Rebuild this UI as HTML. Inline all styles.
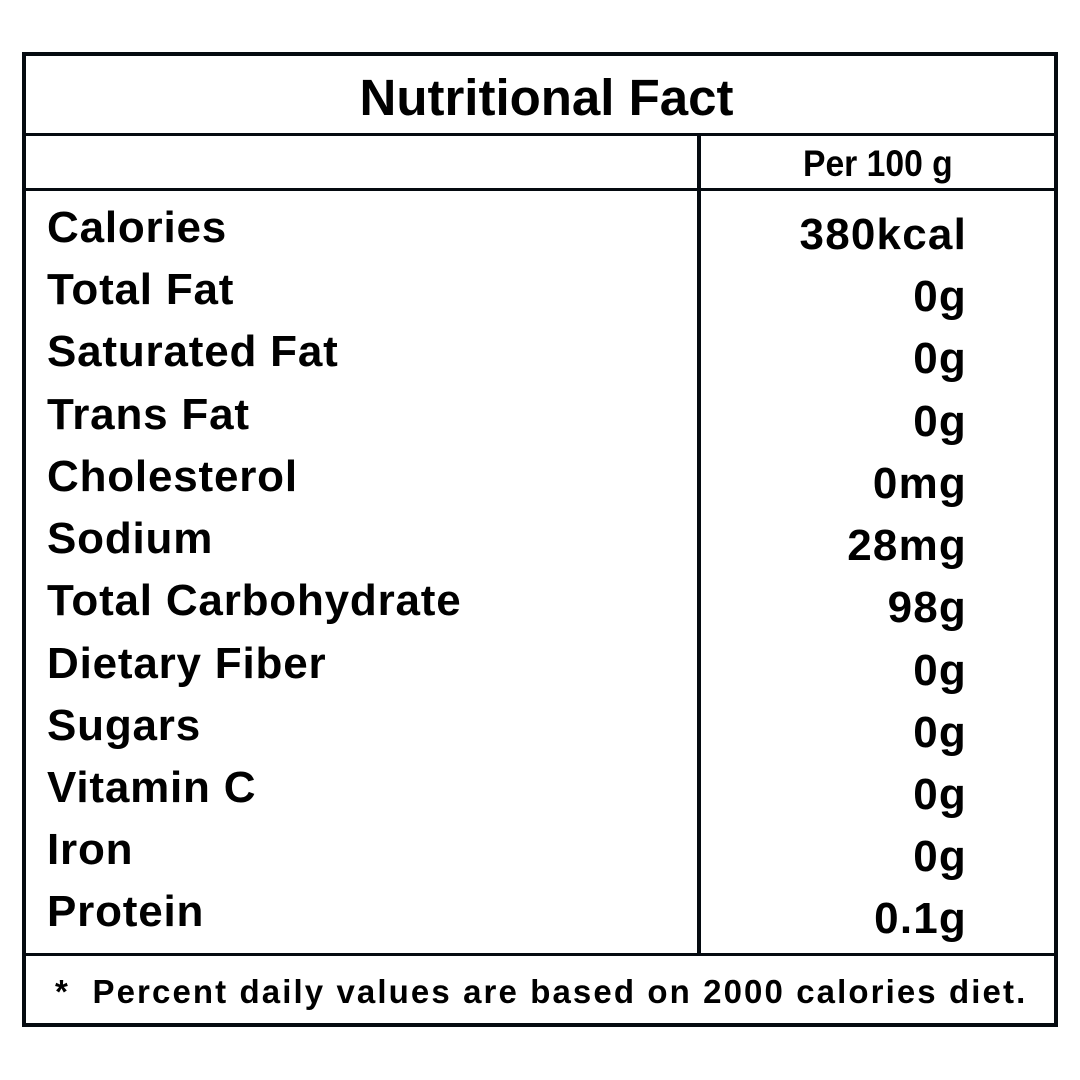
<!DOCTYPE html>
<html><head><meta charset="utf-8"><style>
html,body{margin:0;padding:0;background:#fff;}
body{width:1080px;height:1080px;position:relative;overflow:hidden;font-family:"Liberation Sans",Arial,sans-serif;font-weight:bold;color:#000;}
.ln{position:absolute;background:#050a10;}
.t{position:absolute;line-height:1;white-space:nowrap;}
.l{left:47px;font-size:44px;letter-spacing:0.8px;}
.v{right:113px;font-size:44px;text-align:right;letter-spacing:1.2px;}
</style></head><body>
<div class="ln" style="left:22px;top:52px;width:1036px;height:4px"></div>
<div class="ln" style="left:22px;top:1023px;width:1036px;height:4px"></div>
<div class="ln" style="left:22px;top:52px;width:4px;height:975px"></div>
<div class="ln" style="left:1054px;top:52px;width:4px;height:975px"></div>
<div class="ln" style="left:22px;top:133px;width:1032px;height:3px"></div>
<div class="ln" style="left:22px;top:188px;width:1032px;height:3px"></div>
<div class="ln" style="left:22px;top:953px;width:1032px;height:3px"></div>
<div class="ln" style="left:697px;top:134px;width:4px;height:820px"></div>

<div class="t" style="left:0;width:1093px;text-align:center;top:72px;font-size:51px;">Nutritional Fact</div>
<div class="t" style="left:803px;top:145px;font-size:37px;transform:scaleX(0.91);transform-origin:left;">Per 100 g</div>

<div class="t l" style="top:206px">Calories</div>
<div class="t l" style="top:268px">Total Fat</div>
<div class="t l" style="top:330px">Saturated Fat</div>
<div class="t l" style="top:393px">Trans Fat</div>
<div class="t l" style="top:455px">Cholesterol</div>
<div class="t l" style="top:517px">Sodium</div>
<div class="t l" style="top:579px">Total Carbohydrate</div>
<div class="t l" style="top:642px">Dietary Fiber</div>
<div class="t l" style="top:704px">Sugars</div>
<div class="t l" style="top:766px">Vitamin C</div>
<div class="t l" style="top:828px">Iron</div>
<div class="t l" style="top:890px">Protein</div>

<div class="t v" style="top:213px">380kcal</div>
<div class="t v" style="top:275px">0g</div>
<div class="t v" style="top:337px">0g</div>
<div class="t v" style="top:400px">0g</div>
<div class="t v" style="top:462px">0mg</div>
<div class="t v" style="top:524px">28mg</div>
<div class="t v" style="top:586px">98g</div>
<div class="t v" style="top:649px">0g</div>
<div class="t v" style="top:711px">0g</div>
<div class="t v" style="top:773px">0g</div>
<div class="t v" style="top:835px">0g</div>
<div class="t v" style="top:897px">0.1g</div>

<div class="t" style="left:55px;top:975px;font-size:33px;letter-spacing:2.1px;">*&nbsp; Percent daily values are based on 2000 calories diet.</div>
</body></html>
